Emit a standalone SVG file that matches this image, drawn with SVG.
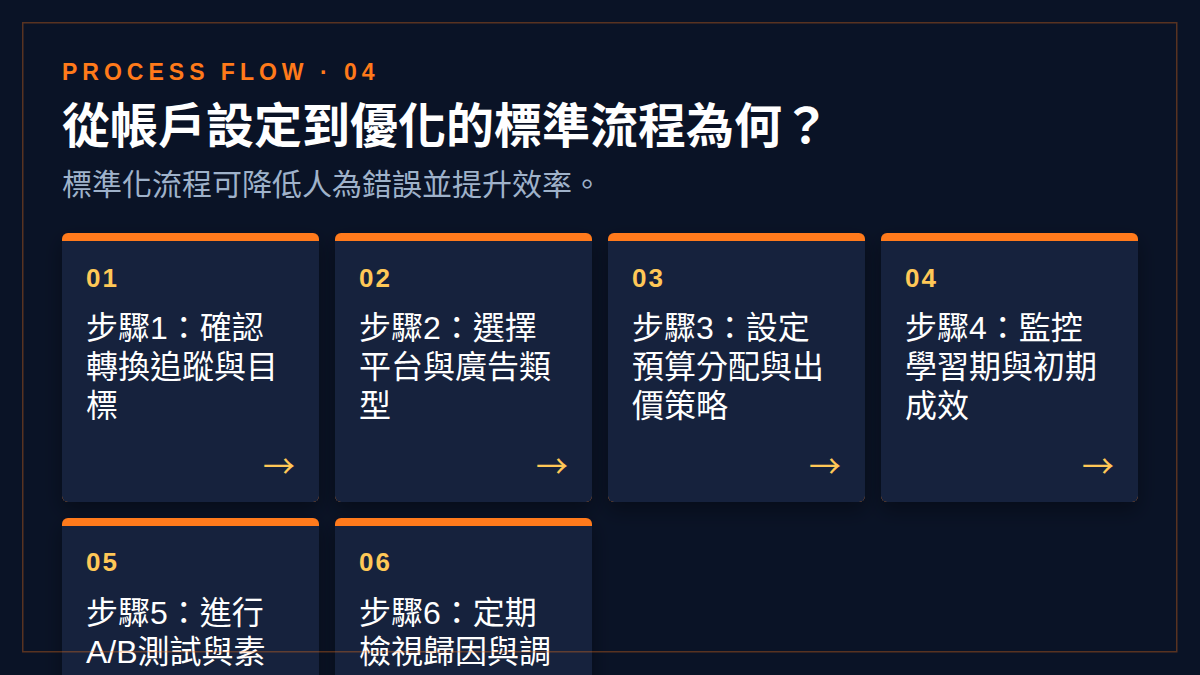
<svg xmlns="http://www.w3.org/2000/svg" width="1200" height="675" viewBox="0 0 1200 675">
  <style>
    .eyebrow { font-family: "Liberation Sans", Arial, sans-serif; font-weight: 700; font-size: 23px; letter-spacing: 5px; fill: #ff7a1a; }
    .heading { font-family: "Liberation Sans", "Noto Sans CJK TC", sans-serif; font-weight: 700; font-size: 48px; fill: #ffffff; }
    .sub { font-family: "Liberation Sans", "Noto Sans CJK TC", sans-serif; font-size: 30px; fill: #9fb2ca; }
    .num { font-family: "Liberation Sans", Arial, sans-serif; font-weight: 700; font-size: 26px; letter-spacing: 2px; fill: #ffc857; }
    .title { font-family: "Liberation Sans", "Noto Sans CJK TC", sans-serif; font-size: 32px; fill: #ffffff; }
    .arrow { font-family: "Noto Sans CJK TC", sans-serif; font-size: 32px; fill: #ffc857; text-anchor: end; }
  </style>
  <defs>
    <filter id="shadow" x="-20%" y="-20%" width="140%" height="140%">
      <feDropShadow dx="0" dy="8" stdDeviation="10" flood-color="#000000" flood-opacity="0.35"/>
    </filter>
    <g id="cardShape">
      <rect width="257" height="269" rx="6" fill="#ff7a1a"/>
      <path d="M0,8 H257 V263 A6,6 0 0 1 251,269 H6 A6,6 0 0 1 0,263 Z" fill="#14243d"/>
    </g>
  </defs>

  <rect width="1200" height="675" fill="#0a1326"/>

  <g id="header">
    <text class="eyebrow" x="62" y="80">PROCESS FLOW · 04</text>
    <text class="heading" x="62" y="143">從帳戶設定到優化的標準流程為何？</text>
    <text class="sub" x="62" y="195">標準化流程可降低人為錯誤並提升效率。</text>
  </g>

  <g id="connectors"></g>

  <g id="step1" transform="translate(62,233)">
    <use href="#cardShape" filter="url(#shadow)"/>
    <text class="num" x="24" y="54">01</text>
    <text class="title"><tspan x="24" y="106">步驟1：確認</tspan><tspan x="24" y="145">轉換追蹤與目</tspan><tspan x="24" y="184">標</tspan></text>
    <text class="arrow" x="233" y="245">→</text>
  </g>

  <g id="step2" transform="translate(335,233)">
    <use href="#cardShape" filter="url(#shadow)"/>
    <text class="num" x="24" y="54">02</text>
    <text class="title"><tspan x="24" y="106">步驟2：選擇</tspan><tspan x="24" y="145">平台與廣告類</tspan><tspan x="24" y="184">型</tspan></text>
    <text class="arrow" x="233" y="245">→</text>
  </g>

  <g id="step3" transform="translate(608,233)">
    <use href="#cardShape" filter="url(#shadow)"/>
    <text class="num" x="24" y="54">03</text>
    <text class="title"><tspan x="24" y="106">步驟3：設定</tspan><tspan x="24" y="145">預算分配與出</tspan><tspan x="24" y="184">價策略</tspan></text>
    <text class="arrow" x="233" y="245">→</text>
  </g>

  <g id="step4" transform="translate(881,233)">
    <use href="#cardShape" filter="url(#shadow)"/>
    <text class="num" x="24" y="54">04</text>
    <text class="title"><tspan x="24" y="106">步驟4：監控</tspan><tspan x="24" y="145">學習期與初期</tspan><tspan x="24" y="184">成效</tspan></text>
    <text class="arrow" x="233" y="245">→</text>
  </g>

  <g id="step5" transform="translate(62,518)">
    <use href="#cardShape" filter="url(#shadow)"/>
    <text class="num" x="24" y="53">05</text>
    <text class="title"><tspan x="24" y="106">步驟5：進行</tspan><tspan x="24" y="145">A/B測試與素</tspan></text>
  </g>

  <g id="step6" transform="translate(335,518)">
    <use href="#cardShape" filter="url(#shadow)"/>
    <text class="num" x="24" y="53">06</text>
    <text class="title"><tspan x="24" y="106">步驟6：定期</tspan><tspan x="24" y="145">檢視歸因與調</tspan></text>
  </g>

  <rect id="frame" x="22.75" y="22.75" width="1154" height="629" fill="none" stroke="#ff7a1a" stroke-opacity="0.32" stroke-width="1.5"/>
</svg>
